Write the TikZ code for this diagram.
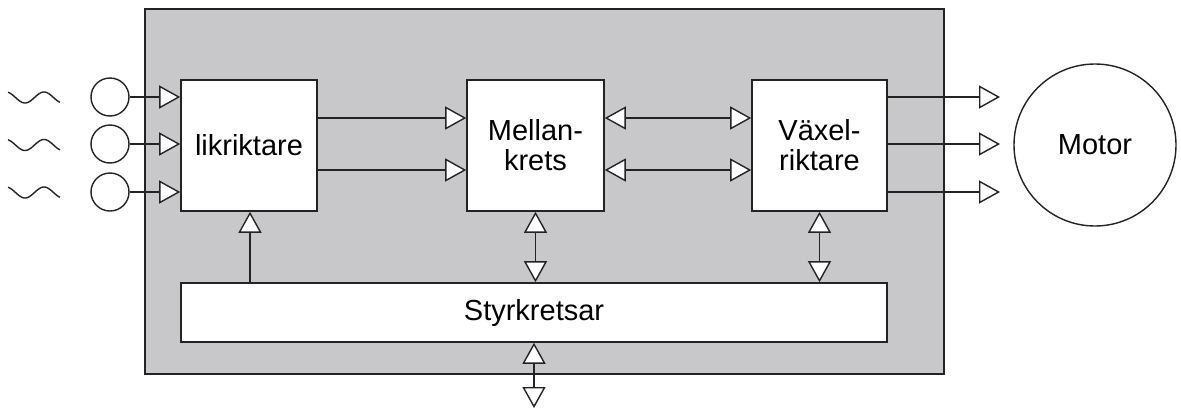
\documentclass[tikz,border=0pt]{standalone}
\usepackage{fontspec}
\setmainfont{Liberation Sans}
\usetikzlibrary{arrows.meta}
\definecolor{panel}{RGB}{200,200,202}
\definecolor{ink}{RGB}{35,35,35}
\tikzset{
  blk/.style={draw=ink, line width=1.6pt, fill=white, inner sep=0pt, align=center, font=\fontsize{29}{30}\selectfont},
  src/.style={draw=ink, line width=1.4pt, circle, fill=white, minimum size=38pt, inner sep=0pt},
  conn/.style={draw=ink, line width=1.6pt},
  tri/.tip={Triangle[length=21pt, width=23pt, fill=white, line width=1.4pt]},
  wave/.style={draw=ink, line width=1.4pt}
}
\begin{document}
\begin{tikzpicture}[x=1pt, y=-1pt]
\useasboundingbox (0,0) rectangle (1181,410);
% panel
\node[draw=ink, line width=1.6pt, fill=panel, minimum width=799pt, minimum height=365pt, inner sep=0pt] (panel) at (544.5,191.5) {};
% blocks
\node[blk, minimum width=136pt, minimum height=131pt] (likr) at (249,145.5) {likriktare};
\node[blk, minimum width=137pt, minimum height=131pt] (mell) at (535.5,145.5) {Mellan-\\krets};
\node[blk, minimum width=135pt, minimum height=131pt] (vax) at (819.5,145.5) {Växel-\\riktare};
\node[blk, minimum width=706pt, minimum height=59pt] (styr) at (534,312.5) {Styrkretsar};
\node[blk, circle, line width=1.4pt, minimum size=162pt] (motor) at (1095,145) {Motor};
% sources
\node[src] (s1) at (110,97) {};
\node[src] (s2) at (110,144) {};
\node[src] (s3) at (110,192) {};
% waves
\foreach \yc in {97.5,145,192.5}{
  \draw[wave] plot[domain=8:60, samples=50, smooth] ({\x},{\yc+5.5*sin(90+(\x-25)*360/38)});
}
% helper coordinates
\coordinate (r1) at (0,118);
\coordinate (r2) at (0,170);
\coordinate (o1) at (1000,97);
\coordinate (o2) at (1000,144);
\coordinate (o3) at (1000,192);
\coordinate (v1) at (250,0);
\coordinate (bot) at (534,408);
% inputs
\draw[conn, -{tri}] (s1.east) -- (s1 -| likr.west);
\draw[conn, -{tri}] (s2.east) -- (s2 -| likr.west);
\draw[conn, -{tri}] (s3.east) -- (s3 -| likr.west);
% likr -> mell
\draw[conn, -{tri}] (likr.east |- r1) -- (mell.west |- r1);
\draw[conn, -{tri}] (likr.east |- r2) -- (mell.west |- r2);
% mell <-> vax
\draw[conn, {tri}-{tri}] (mell.east |- r1) -- (vax.west |- r1);
\draw[conn, {tri}-{tri}] (mell.east |- r2) -- (vax.west |- r2);
% outputs
\draw[conn, -{tri}] (vax.east |- o1) -- (o1);
\draw[conn, -{tri}] (vax.east |- o2) -- (o2);
\draw[conn, -{tri}] (vax.east |- o3) -- (o3);
% control
\draw[conn, -{tri}] (styr.north -| v1) -- (likr.south -| v1);
\draw[conn, {tri}-{tri}] (mell.south) -- (styr.north -| mell.south);
\draw[conn, {tri}-{tri}] (vax.south) -- (styr.north -| vax.south);
\draw[conn, {tri}-{tri}] (styr.south) -- (bot);
\end{tikzpicture}
\end{document}
